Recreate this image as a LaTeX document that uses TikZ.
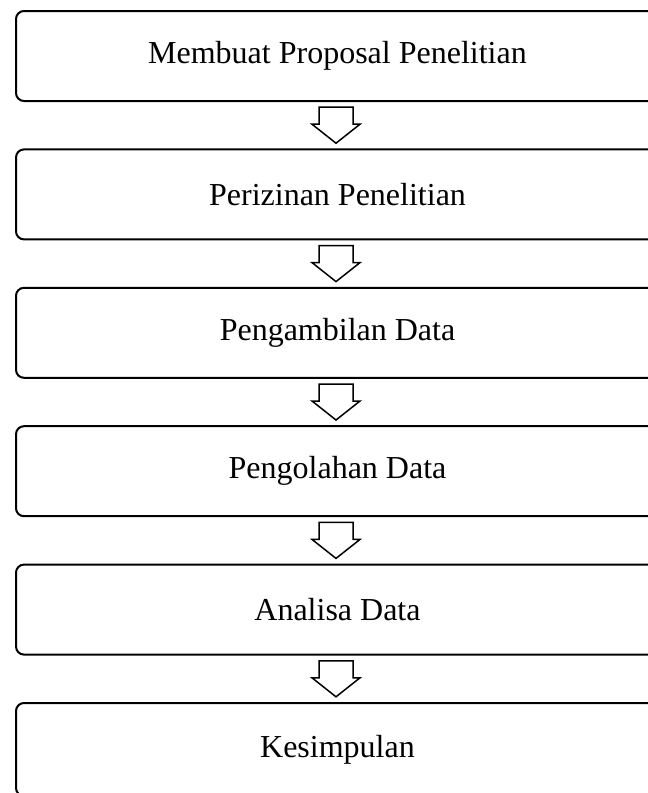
\documentclass[tikz,border=0pt]{standalone}
\usepackage{fontspec}
\setmainfont{Liberation Serif}
\usetikzlibrary{calc}
\begin{document}
\begin{tikzpicture}[x=1pt,y=-1pt,
  stepbox/.style={draw, line width=2pt, rounded corners=8pt, minimum width=643pt,
    minimum height=90pt, inner sep=0pt, font=\fontsize{32}{38}\selectfont},
  blockarrow/.style={draw, line width=1.5pt, fill=white, line join=miter}]
\useasboundingbox (0,0) rectangle (648,793);
\clip (0,0) rectangle (648,793);
\node[stepbox] (b1) at (337.5,56)    {Membuat Proposal Penelitian};
\node[stepbox] (b2) at (337.5,194.4) {Perizinan Penelitian};
\node[stepbox] (b3) at (337.5,332.8) {Pengambilan Data};
\node[stepbox] (b4) at (337.5,471.2) {Pengolahan Data};
\node[stepbox] (b5) at (337.5,609.6) {Analisa Data};
\node[stepbox, minimum height=93pt] (b6) at (337.5,749.5) {Kesimpulan};
\foreach \a/\b in {b1/b2,b2/b3,b3/b4,b4/b5,b5/b6}{
  \coordinate (m\a) at ($(\a.south)!0.5!(\b.north)+(-1.5,0)$);
  \draw[blockarrow] ($(m\a)+(-17,-18)$) -- ($(m\a)+(17,-18)$) -- ($(m\a)+(17,-1)$)
    -- ($(m\a)+(24,-1)$) -- ($(m\a)+(0,18)$) -- ($(m\a)+(-24,-1)$)
    -- ($(m\a)+(-17,-1)$) -- cycle;
}
\end{tikzpicture}
\end{document}
